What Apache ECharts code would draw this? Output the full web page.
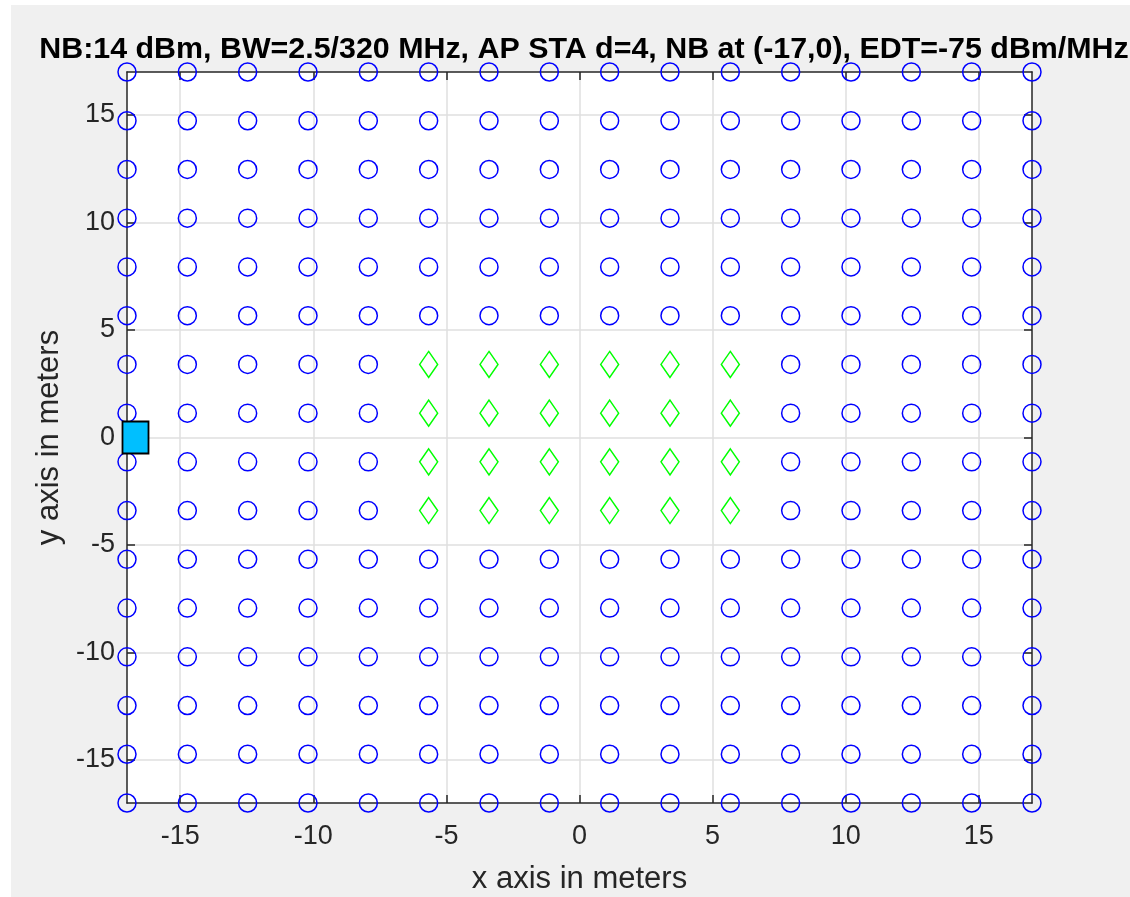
<!DOCTYPE html>
<html>
<head>
    <meta charset="utf-8">
    <title>NB grid</title>
    <script src="https://cdn.jsdelivr.net/npm/echarts@6/dist/echarts.min.js"></script>
    <style type="text/css">
        * {
            margin: 0;
            padding: 0;
        }
        body {
            background: #ffffff;
        }
    </style>
</head>
<body>
    <div id="main" style="position: absolute; left: 11px; top: 5px; width: 1119px; height: 892px;"></div>
    <script type="text/javascript">
        // grid positions (m), same on both axes
        var gridX = [-17, -14.733, -12.467, -10.2, -7.933, -5.667, -3.4, -1.133, 1.133, 3.4, 5.667, 7.933, 10.2, 12.467, 14.733, 17];
        var gridY = [17, 14.733, 12.467, 10.2, 7.933, 5.667, 3.4, 1.133, -1.133, -3.4, -5.667, -7.933, -10.2, -12.467, -14.733, -17];
        // STA positions above threshold (green diamonds)
        var zoneX = [-5.667, -3.4, -1.133, 1.133, 3.4, 5.667];
        var zoneY = [3.4, 1.133, -1.133, -3.4];
        // narrowband interferer
        var nbPos = [-17, 0];
        var tickVals = [-15, -10, -5, 0, 5, 10, 15];
        var titleText = 'NB:14 dBm, BW=2.5/320 MHz, AP STA d=4, NB at (-17,0), EDT=-75 dBm/MHz';

        var circles = [];
        var diamonds = [];
        gridX.forEach(function(x) {
            gridY.forEach(function(y) {
                if (zoneX.indexOf(x) >= 0 && zoneY.indexOf(y) >= 0) {
                    diamonds.push([x, y]);
                } else {
                    circles.push([x, y]);
                }
            });
        });

        var axisColor = '#262626';
        var font = 'Liberation Sans, Arial, Helvetica, sans-serif';

        function makeAxis(pos, name, show) {
            return {
                type: 'value',
                position: pos,
                min: -17,
                max: 17,
                name: name,
                nameLocation: 'middle',
                nameGap: 61,
                nameTextStyle: {
                    color: axisColor,
                    fontSize: 31,
                    fontFamily: font
                },
                axisLine: {
                    show: true,
                    onZero: false,
                    lineStyle: { color: axisColor, width: 1.5 }
                },
                axisTick: {
                    show: true,
                    inside: true,
                    length: 8,
                    customValues: tickVals,
                    lineStyle: { color: axisColor, width: 1.5 }
                },
                axisLabel: {
                    show: show,
                    customValues: tickVals,
                    color: axisColor,
                    fontSize: 27,
                    fontFamily: font,
                    margin: (pos == 'bottom') ? 20 : 12
                },
                splitLine: {
                    show: show,
                    lineStyle: { color: '#dfdfdf', width: 1.5 }
                }
            };
        }

        var myChart = echarts.init(document.getElementById('main'));

        var option = {
            backgroundColor: '#f0f0f0',
            animation: false,
            title: {
                text: titleText,
                left: 568,
                top: 25,
                textAlign: 'center',
                textStyle: {
                    color: '#000000',
                    fontSize: 30.4,
                    fontWeight: 'bold',
                    fontFamily: font
                }
            },
            grid: {
                left: 116,
                top: 67,
                width: 905,
                height: 731,
                show: true,
                backgroundColor: '#ffffff',
                borderWidth: 0,
                containLabel: false,
                outerBoundsMode: 'none'
            },
            xAxis: [
                makeAxis('bottom', 'x axis in meters', true),
                makeAxis('top', '', false)
            ],
            yAxis: [
                makeAxis('left', 'y axis in meters', true),
                makeAxis('right', '', false)
            ],
            series: [{
                    name: 'below EDT',
                    type: 'scatter',
                    data: circles,
                    symbol: 'circle',
                    symbolSize: 18,
                    clip: false,
                    itemStyle: {
                        color: 'rgba(0,0,0,0)',
                        borderColor: '#0000ff',
                        borderWidth: 1.5,
                        opacity: 1
                    },
                    z: 3
                },
                {
                    name: 'above EDT',
                    type: 'scatter',
                    data: diamonds,
                    symbol: 'diamond',
                    symbolSize: [18, 26],
                    clip: false,
                    itemStyle: {
                        color: 'rgba(0,0,0,0)',
                        borderColor: '#00ff00',
                        borderWidth: 1.5,
                        opacity: 1
                    },
                    z: 3
                },
                {
                    name: 'NB',
                    type: 'scatter',
                    data: [nbPos],
                    symbol: 'rect',
                    symbolSize: [26, 32],
                    symbolOffset: [8.5, 0],
                    clip: false,
                    itemStyle: {
                        color: '#00bfff',
                        borderColor: '#000000',
                        borderWidth: 2,
                        opacity: 1
                    },
                    z: 4
                }
            ]
        };

        myChart.setOption(option);
    </script>
</body>
</html>
